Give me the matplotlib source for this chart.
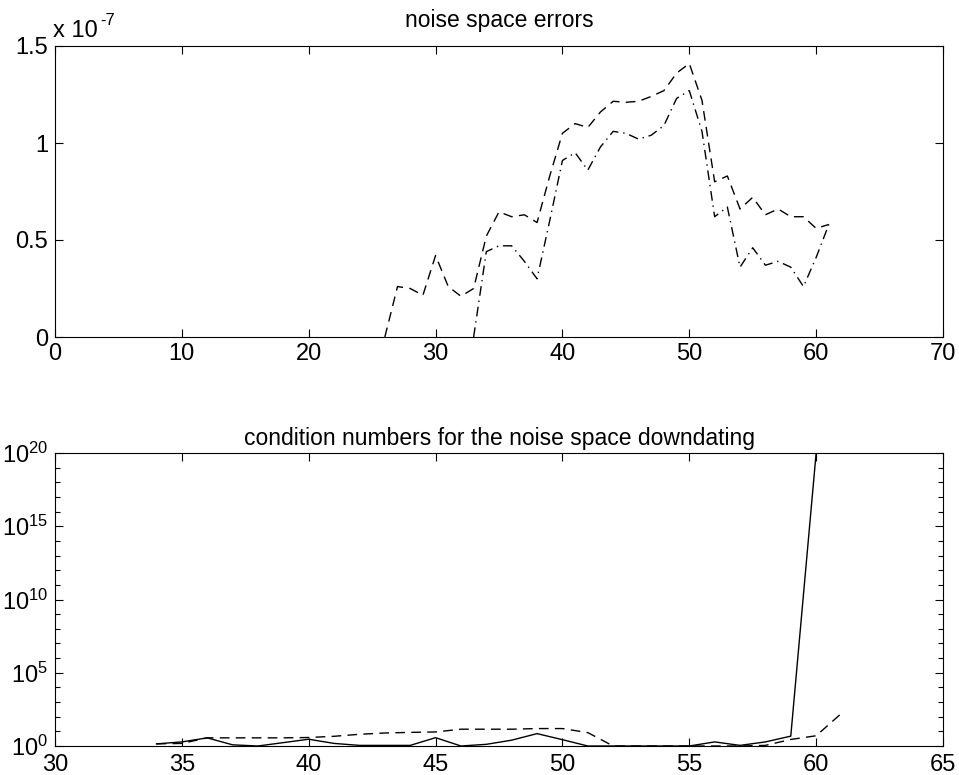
import matplotlib
matplotlib.use("Agg")
import matplotlib.pyplot as plt
from matplotlib.ticker import FixedLocator, FixedFormatter, NullFormatter, LogFormatterSciNotation

plt.rcParams["font.family"] = ["Liberation Sans", "DejaVu Sans"]
plt.rcParams["mathtext.fontset"] = "custom"
plt.rcParams["mathtext.rm"] = "Liberation Sans"
plt.rcParams["mathtext.it"] = "Liberation Sans:italic"
plt.rcParams["mathtext.bf"] = "Liberation Sans:bold"

# ---- noise space errors (units of 1e-7) ----
err_x_dashed = list(range(26, 62))
err_dashed = [0.00, 0.26, 0.25, 0.215, 0.42, 0.26, 0.21, 0.25, 0.52, 0.645,
              0.62, 0.63, 0.59, 0.83, 1.05, 1.10, 1.08, 1.16, 1.215, 1.21,
              1.215, 1.24, 1.27, 1.36, 1.41, 1.22, 0.80, 0.83, 0.66, 0.72,
              0.63, 0.66, 0.62, 0.62, 0.56, 0.58]
err_x_dashdot = list(range(33, 62))
err_dashdot = [0.00, 0.44, 0.47, 0.47, 0.39, 0.30, 0.60, 0.91, 0.95, 0.86,
               0.98, 1.06, 1.05, 1.02, 1.04, 1.09, 1.23, 1.27, 1.06, 0.62,
               0.67, 0.36, 0.46, 0.37, 0.39, 0.36, 0.26, 0.41, 0.58]
err_xticks = [0, 10, 20, 30, 40, 50, 60, 70]
err_yticks = [0, 0.5, 1, 1.5]
err_yticklabels = ["0", "0.5", "1", "1.5"]

# ---- condition numbers ----
cond_x_solid = list(range(34, 61))
cond_solid = [1.4, 1.9, 3.6, 1.2, 1.0, 1.7, 2.9, 1.5, 1.1, 1.1,
              1.1, 3.7, 1.0, 1.3, 2.5, 7.0, 2.7, 1.0, 1.0, 1.0,
              1.0, 1.0, 1.9, 1.1, 1.9, 4.7, 1e20]
cond_x_dashed = list(range(34, 62))
cond_dashed = [1.4, 1.5, 3.6, 3.6, 3.6, 3.6, 3.8, 4.6, 6.3, 7.7,
               8.5, 9.1, 14.0, 14.0, 14.0, 15.5, 15.5, 8.2, 1.0, 1.0,
               1.0, 1.0, 1.0, 1.0, 1.1, 2.8, 5.0, 170.0]
cond_xticks = [30, 35, 40, 45, 50, 55, 60, 65]
cond_major_exp = [0, 5, 10, 15, 20]

FS_TICK = 17
FS_TITLE = 16.5
LW = 1.0
DASH = (0, (7, 4.5))
DASHDOT = (0, (7, 3.5, 1, 3.5))

fig = plt.figure(figsize=(9.59, 7.75), dpi=100)
W, H = 959.0, 775.0
ax1 = fig.add_axes([55 / W, 1 - 337 / H, 888 / W, 291 / H])
ax2 = fig.add_axes([55 / W, 1 - 746 / H, 888 / W, 293 / H])

for ax in (ax1, ax2):
    for sp in ax.spines.values():
        sp.set_linewidth(0.8)
    ax.tick_params(which="both", direction="in", top=True, right=True,
                   width=0.8, labelsize=FS_TICK, colors="black")
    ax.tick_params(which="major", length=6)
    ax.tick_params(which="minor", length=3.5)
    ax.tick_params(axis="x", pad=4)
    ax.tick_params(axis="y", pad=5)
ax2.tick_params(axis="x", pad=5.5)

# top panel
ax1.plot(err_x_dashed, err_dashed, color="black", lw=LW, linestyle=DASH)
ax1.plot(err_x_dashdot, err_dashdot, color="black", lw=LW, linestyle=DASHDOT)
ax1.set_xlim(0, 70)
ax1.set_ylim(0, 1.5)
ax1.xaxis.set_major_locator(FixedLocator(err_xticks))
ax1.yaxis.set_major_locator(FixedLocator(err_yticks))
ax1.yaxis.set_major_formatter(FixedFormatter(err_yticklabels))
ax1.set_title("noise space errors", fontsize=FS_TITLE, pad=14)
fig.text(53 / W, 1 - 37 / H, "x 10", fontsize=17, ha="left", va="baseline")
fig.text(100 / W, 1 - 25 / H, "-7", fontsize=12, ha="left", va="baseline")

# bottom panel
ax2.plot(cond_x_solid, cond_solid, color="black", lw=LW, linestyle="-")
ax2.plot(cond_x_dashed, cond_dashed, color="black", lw=LW, linestyle=DASH)
ax2.set_yscale("log")
ax2.set_xlim(30, 65)
ax2.set_ylim(1, 1e20)
ax2.xaxis.set_major_locator(FixedLocator(cond_xticks))
ax2.yaxis.set_major_locator(FixedLocator([10.0 ** e for e in cond_major_exp]))
ax2.yaxis.set_major_formatter(LogFormatterSciNotation())
ax2.yaxis.set_minor_locator(FixedLocator([10.0 ** e for e in range(1, 20)
                                          if e not in cond_major_exp]))
ax2.yaxis.set_minor_formatter(NullFormatter())
ax2.set_title("condition numbers for the noise space downdating",
              fontsize=FS_TITLE, pad=6)

fig.savefig("out.png", dpi=100)
